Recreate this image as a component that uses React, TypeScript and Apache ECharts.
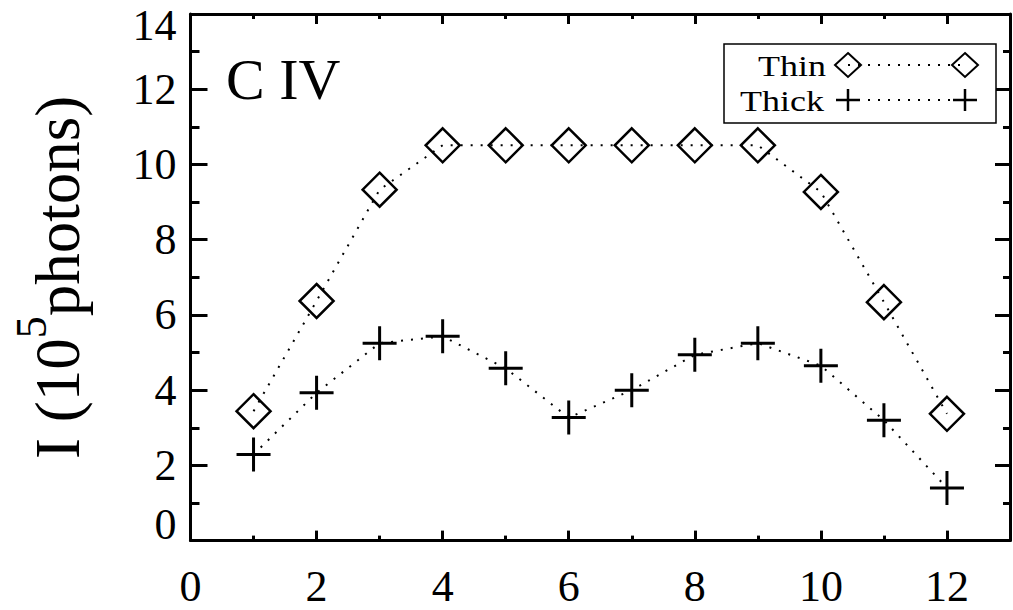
import React, { useEffect, useRef } from "react";
import * as echarts from "echarts";

const positions = [1, 2, 3, 4, 5, 6, 7, 8, 9, 10, 11, 12];
const thinValues = [3.44, 6.37, 9.33, 10.51, 10.51, 10.51, 10.51, 10.51, 10.51, 9.27, 6.34, 3.37];
const thickValues = [2.29, 3.93, 5.25, 5.43, 4.58, 3.27, 4.0, 4.94, 5.25, 4.65, 3.2, 1.4];
const xTickLabels = [0, 2, 4, 6, 8, 10, 12];
const yTickLabels = [0, 2, 4, 6, 8, 10, 12, 14];
const seriesNames = ["Thin", "Thick"];
const panelLabel = "C IV";

const FONT = "'Liberation Serif', 'Times New Roman', serif";
const BLACK = "#000";

export default function App() {
  const ref = useRef<HTMLDivElement>(null);
  useEffect(() => {
    if (!ref.current) return;
    const chart = echarts.init(ref.current, undefined, { renderer: "svg" });
    const tickStyle = { color: BLACK, width: 3 };
    const noLabel = { show: false };
    const xBase = { type: "value", min: 0, max: 13, splitLine: { show: false } };
    const yBase = { type: "value", min: 0, max: 14, interval: 2, splitLine: { show: false } };
    const yLabelMax = yTickLabels[yTickLabels.length - 1];
    const option: any = {
      animation: false,
      backgroundColor: "#fff",
      title: {
        text: panelLabel,
        left: 226,
        top: 50,
        padding: 0,
        textStyle: { fontSize: 58, fontFamily: FONT, fontWeight: "normal", color: BLACK },
      },
      grid: { left: 190.5, top: 14, right: -1.7, bottom: 69.4, containLabel: false },
      xAxis: [
        {
          ...xBase,
          interval: 1,
          position: "bottom",
          axisLine: { show: true, onZero: false, lineStyle: { color: BLACK, width: 3 } },
          axisTick: { show: true, inside: true, length: 5, lineStyle: tickStyle },
          axisLabel: {
            show: true,
            fontSize: 44,
            lineHeight: 40,
            fontFamily: FONT,
            color: BLACK,
            margin: 26,
            formatter: (v: number) => (xTickLabels.includes(v) ? String(v) : ""),
          },
        },
        {
          ...xBase,
          interval: 1,
          position: "top",
          axisLine: { show: true, onZero: false, lineStyle: { color: BLACK, width: 3 } },
          axisTick: { show: true, inside: true, length: 5, lineStyle: tickStyle },
          axisLabel: noLabel,
        },
        {
          ...xBase,
          interval: 2,
          position: "bottom",
          axisLine: { show: false, onZero: false },
          axisTick: { show: true, inside: true, length: 10, lineStyle: tickStyle },
          axisLabel: noLabel,
        },
        {
          ...xBase,
          interval: 2,
          position: "top",
          axisLine: { show: false, onZero: false },
          axisTick: { show: true, inside: true, length: 10, lineStyle: tickStyle },
          axisLabel: noLabel,
        },
      ],
      yAxis: [
        {
          ...yBase,
          position: "left",
          axisLine: { show: true, onZero: false, lineStyle: { color: BLACK, width: 3 } },
          axisTick: { show: true, inside: true, length: 17, lineStyle: tickStyle },
          minorTick: { show: true, splitNumber: 2, length: 9, lineStyle: tickStyle },
          minorSplitLine: { show: false },
          axisLabel: {
            show: true,
            fontSize: 44,
            fontFamily: FONT,
            color: BLACK,
            margin: 14,
            formatter: (v: number) =>
              v === 0 ? "{lo|0}" : v === yLabelMax ? "{hi|" + v + "}" : String(v),
            rich: {
              lo: { fontSize: 44, fontFamily: FONT, color: BLACK, padding: [0, 0, 32, 0] },
              hi: { fontSize: 44, fontFamily: FONT, color: BLACK, padding: [22, 0, 0, 0] },
            },
          },
          name: "{a|I (10}{s|5}{a|photons)}",
          nameLocation: "middle",
          nameRotate: 90,
          nameGap: 101,
          nameTextStyle: {
            fontFamily: FONT,
            color: BLACK,
            rich: {
              a: { fontSize: 63, fontFamily: FONT, color: BLACK, lineHeight: 64 },
              s: { fontSize: 44, fontFamily: FONT, color: BLACK, lineHeight: 46, padding: [0, 0, 52, 0] },
            },
          },
        },
        {
          ...yBase,
          position: "right",
          axisLine: { show: true, onZero: false, lineStyle: { color: BLACK, width: 3 } },
          axisTick: { show: true, inside: true, length: 15, lineStyle: tickStyle },
          minorTick: { show: true, splitNumber: 2, length: 7, lineStyle: tickStyle },
          minorSplitLine: { show: false },
          axisLabel: noLabel,
        },
      ],
      series: [
        {
          name: seriesNames[0],
          type: "line",
          xAxisIndex: 0,
          yAxisIndex: 0,
          data: positions.map((x, i) => [x, thinValues[i]]),
          symbol: "diamond",
          symbolSize: 34,
          showAllSymbol: true,
          lineStyle: { color: BLACK, width: 2, type: [2, 8], cap: "butt" },
          itemStyle: { color: "transparent", borderColor: BLACK, borderWidth: 2.5 },
        },
        {
          name: seriesNames[1],
          type: "line",
          xAxisIndex: 0,
          yAxisIndex: 0,
          data: positions.map((x, i) => [x, thickValues[i]]),
          symbol: "path://M17 0V34M0 17H34",
          symbolSize: 34,
          showAllSymbol: true,
          lineStyle: { color: BLACK, width: 2, type: [2, 8], cap: "butt" },
          itemStyle: { color: "transparent", borderColor: BLACK, borderWidth: 3 },
        },
      ],
      graphic: [
        {
          type: "rect",
          z: 100,
          shape: { x: 724, y: 44, width: 272, height: 79 },
          style: { fill: "#fff", stroke: BLACK, lineWidth: 1.5 },
        },
        {
          type: "text",
          z: 101,
          x: 826,
          y: 66,
          scaleX: 1.2,
          style: { text: seriesNames[0], fontSize: 30, fontFamily: FONT, fill: BLACK, align: "right", verticalAlign: "middle" },
        },
        {
          type: "text",
          z: 101,
          x: 824,
          y: 101,
          scaleX: 1.2,
          style: { text: seriesNames[1], fontSize: 30, fontFamily: FONT, fill: BLACK, align: "right", verticalAlign: "middle" },
        },
        {
          type: "line",
          z: 101,
          shape: { x1: 848, y1: 65, x2: 965, y2: 65 },
          style: { stroke: BLACK, lineWidth: 2, lineDash: [2, 8] },
        },
        {
          type: "polygon",
          z: 102,
          shape: { points: [[848, 53], [861, 65], [848, 77], [835, 65]] },
          style: { fill: "none", stroke: BLACK, lineWidth: 2 },
        },
        {
          type: "polygon",
          z: 102,
          shape: { points: [[965, 53], [978, 65], [965, 77], [952, 65]] },
          style: { fill: "none", stroke: BLACK, lineWidth: 2 },
        },
        {
          type: "line",
          z: 101,
          shape: { x1: 848, y1: 100, x2: 965, y2: 100 },
          style: { stroke: BLACK, lineWidth: 2, lineDash: [2, 8] },
        },
        { type: "line", z: 102, shape: { x1: 836, y1: 100, x2: 860, y2: 100 }, style: { stroke: BLACK, lineWidth: 2.5 } },
        { type: "line", z: 102, shape: { x1: 848, y1: 89, x2: 848, y2: 111 }, style: { stroke: BLACK, lineWidth: 2.5 } },
        { type: "line", z: 102, shape: { x1: 953, y1: 100, x2: 977, y2: 100 }, style: { stroke: BLACK, lineWidth: 2.5 } },
        { type: "line", z: 102, shape: { x1: 965, y1: 89, x2: 965, y2: 111 }, style: { stroke: BLACK, lineWidth: 2.5 } },
      ],
    };
    chart.setOption(option);
    return () => chart.dispose();
  }, []);
  return (
    <div
      ref={ref}
      style={{ position: "fixed", left: 0, top: 0, width: 1013, height: 610, background: "#fff" }}
    />
  );
}
